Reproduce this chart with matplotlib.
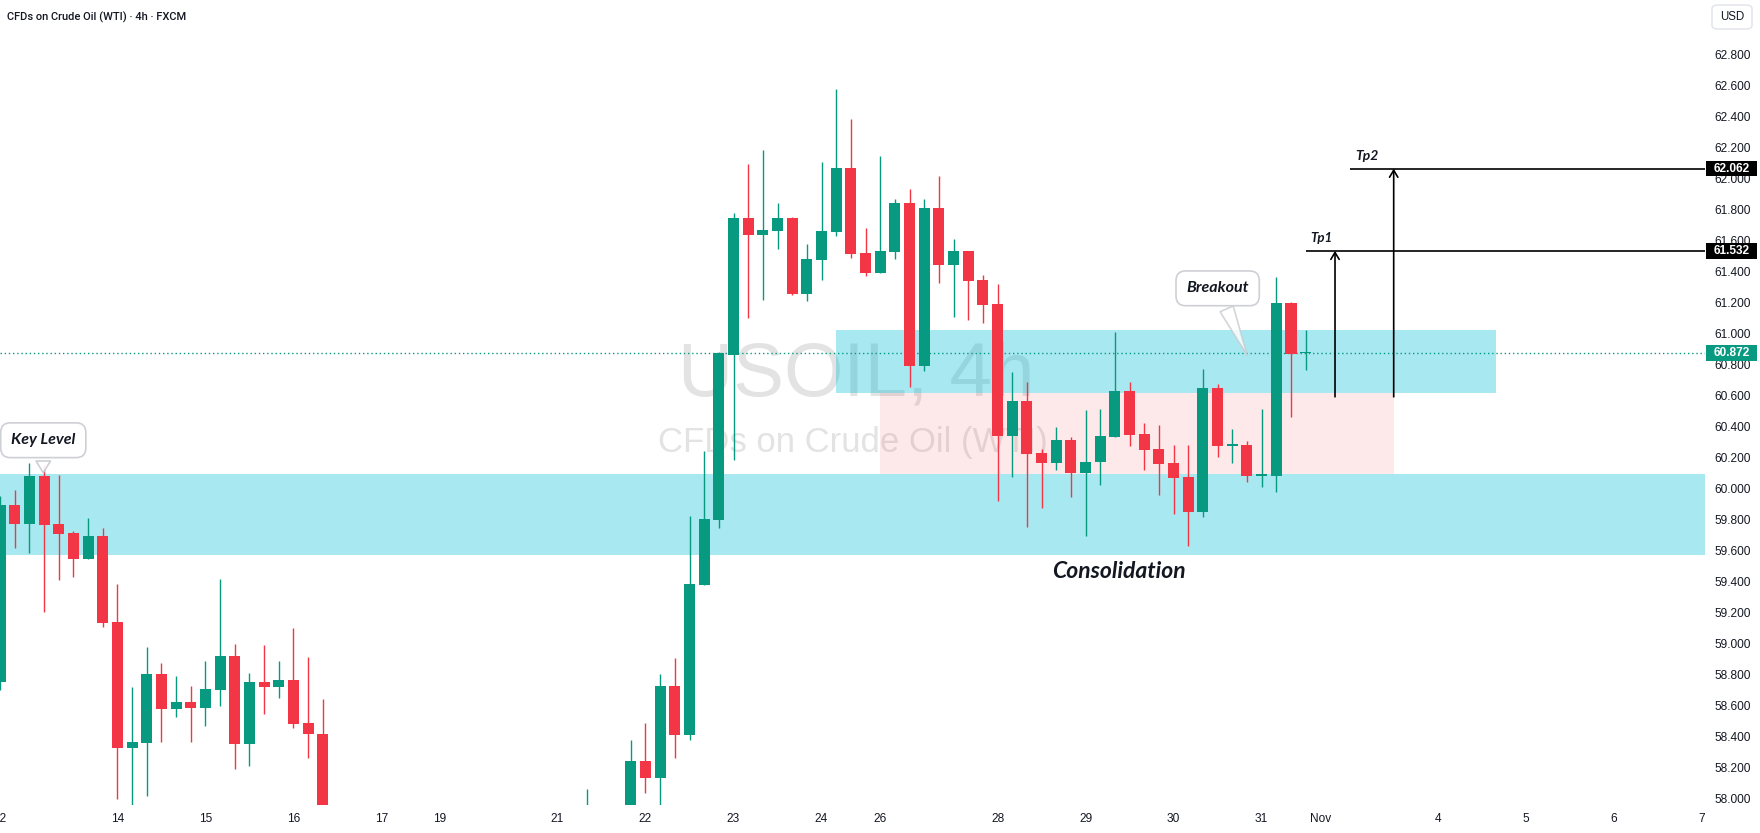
import matplotlib
matplotlib.use("Agg")
import matplotlib.pyplot as plt
from matplotlib.patches import Rectangle, FancyBboxPatch
import matplotlib.transforms as mtransforms

# 4h candles, x = bar number counted from the first bar of Oct 12
bar_idx = [0, 1, 2, 3, 4, 5, 6, 7, 8, 9, 10, 11, 12, 13, 14, 15, 16, 17, 18, 19, 20, 21, 22,
           40, 43, 44, 45, 46, 47, 48, 49, 50, 51, 52, 53, 54, 55, 56, 57, 58, 59, 60,
           61, 62, 63, 64, 65, 66, 67, 68, 69, 70, 71, 72, 73, 74, 75, 76, 77, 78, 79,
           80, 81, 82, 83, 84, 85, 86, 87, 88, 89]
opens = [58.752, 59.892, 59.772, 60.079, 59.770, 59.712, 59.546, 59.692, 59.137, 58.327,
         58.359, 58.802, 58.578, 58.621, 58.585, 58.701, 58.918, 58.352, 58.750, 58.720,
         58.763, 58.486, 58.417,
         57.70, 57.85, 58.241, 58.133, 58.724, 58.411, 59.378, 59.798, 60.862, 61.744,
         61.636, 61.662, 61.744, 61.256, 61.475, 61.656, 62.066, 61.518, 61.391,
         61.525, 61.841, 60.791, 61.808, 61.443, 61.531, 61.344, 61.189, 60.340, 60.563,
         60.228, 60.165, 60.309, 60.101, 60.168, 60.333, 60.628, 60.350, 60.254,
         60.163, 60.073, 59.849, 60.647, 60.275, 60.279, 60.082, 60.082, 61.195, 60.872]
highs = [59.950, 59.989, 60.165, 60.150, 60.086, 59.724, 59.808, 59.744, 59.383, 58.718,
         58.976, 58.873, 58.789, 58.724, 58.886, 59.415, 58.995, 58.808, 58.989, 58.886,
         59.099, 58.912, 58.641,
         58.06, 58.376, 58.486, 58.802, 58.905, 59.821, 60.241, 60.880, 61.776, 62.092,
         62.183, 61.841, 61.750, 61.576, 62.105, 62.576, 62.383, 61.679, 62.144,
         61.866, 61.931, 61.866, 62.015, 61.608, 61.531, 61.376, 61.318, 60.750, 60.686,
         60.254, 60.395, 60.331, 60.505, 60.512, 61.008, 60.686, 60.421, 60.408,
         60.279, 60.279, 60.770, 60.673, 60.383, 60.305, 60.512, 61.363, 61.202, 61.021]
lows = [58.700, 59.617, 59.585, 59.204, 59.408, 59.430, 59.546, 59.107, 57.998, 57.900,
        58.015, 58.365, 58.527, 58.365, 58.469, 58.598, 58.191, 58.211, 58.546, 58.649,
        58.456, 58.262, 57.50,
        57.55, 57.80, 58.036, 57.90, 58.262, 58.378, 59.378, 59.746, 60.180, 61.101,
        61.217, 61.546, 61.250, 61.211, 61.346, 61.630, 61.488, 61.372, 61.391,
        61.479, 60.656, 60.759, 61.327, 61.107, 61.088, 61.069, 59.920, 60.075, 59.752,
        59.875, 60.120, 59.946, 59.694, 60.023, 60.333, 60.275, 60.120, 59.959,
        59.836, 59.630, 59.817, 60.204, 60.165, 60.043, 60.011, 59.978, 60.462, 60.763]
closes = [59.892, 59.772, 60.079, 59.763, 59.707, 59.546, 59.692, 59.133, 58.327, 58.363,
          58.802, 58.578, 58.621, 58.585, 58.705, 58.918, 58.352, 58.750, 58.720, 58.763,
          58.481, 58.417, 57.70,
          57.85, 58.241, 58.133, 58.724, 58.411, 59.383, 59.802, 60.871, 61.744, 61.636,
          61.666, 61.744, 61.256, 61.479, 61.660, 62.066, 61.514, 61.391, 61.531,
          61.841, 60.791, 61.808, 61.443, 61.531, 61.340, 61.185, 60.340, 60.563, 60.223,
          60.165, 60.309, 60.101, 60.168, 60.337, 60.628, 60.346, 60.249, 60.159,
          60.069, 59.849, 60.647, 60.275, 60.275, 60.082, 60.082, 61.195, 60.864, 60.872]

date_labels = ["12", "14", "15", "16", "17", "19", "21", "22", "23", "24", "26", "28",
               "29", "30", "31", "Nov", "4", "5", "6", "7"]
date_pos = [0, 8, 14, 20, 26, 30, 38, 44, 50, 56, 60, 68, 74, 80, 86, 90, 98, 104, 110, 116]

price_ticks = [58.0, 58.2, 58.4, 58.6, 58.8, 59.0, 59.2, 59.4, 59.6, 59.8, 60.0, 60.2, 60.4,
               60.6, 60.8, 61.0, 61.2, 61.4, 61.6, 61.8, 62.0, 62.2, 62.4, 62.6, 62.8]

last_price = 60.872
tp1 = 61.532
tp2 = 62.062
key_zone = (59.570, 60.092)
upper_zone = (60.615, 61.021)
range_zone = (60.094, 60.615)

UP = "#089981"
DOWN = "#f23645"
TXT = "#131722"

fig = plt.figure(figsize=(17.6, 8.33), dpi=100)
ax = fig.add_axes([0, 28 / 833, 1705 / 1760, 805 / 833])
ax.set_xlim(0.12, 116.22)
ax.set_ylim(57.957, 63.150)

# watermark
ax.text(0.502, 0.533, "USOIL, 4h", transform=ax.transAxes, ha="center", va="center",
        fontsize=55, color="#e3e3e3", family="Liberation Sans", zorder=0)
ax.text(0.5, 0.45, "CFDs on Crude Oil (WTI)", transform=ax.transAxes, ha="center",
        va="center", fontsize=25, color="#e3e3e3", family="Liberation Sans", zorder=0)

# zones
ax.axhspan(key_zone[0], key_zone[1], color="#00bcd4", alpha=0.34, lw=0, zorder=1)
ax.add_patch(Rectangle((57.0, upper_zone[0]), 102.0 - 57.0, upper_zone[1] - upper_zone[0],
                       color="#00bcd4", alpha=0.34, lw=0, zorder=1))
ax.add_patch(Rectangle((60.0, range_zone[0]), 95.0 - 60.0, range_zone[1] - range_zone[0],
                       color="#f23645", alpha=0.11, lw=0, zorder=1))

# candles
colors = [UP if c >= o else DOWN for o, c in zip(opens, closes)]
bottoms = [min(o, c) for o, c in zip(opens, closes)]
heights = [max(abs(c - o), 0.008) for o, c in zip(opens, closes)]
ax.vlines(bar_idx, lows, highs, colors=colors, lw=1.0, zorder=3)
ax.bar(bar_idx, heights, bottom=bottoms, width=0.75, color=colors, lw=0, zorder=4)

# last price line
ax.axhline(last_price, color=UP, lw=1.0, ls=(0, (1, 2)), zorder=2)

# targets
ax.hlines(tp1, 89, 116.22, color="black", lw=1.2, zorder=5)
ax.hlines(tp2, 92, 116.22, color="black", lw=1.2, zorder=5)
for xa, ya in [(91, tp1), (95, tp2)]:
    ax.annotate("", xy=(xa, ya), xytext=(xa, 60.59),
                arrowprops=dict(arrowstyle="->,head_length=0.5,head_width=0.3",
                                color="black", lw=1.2, shrinkA=0, shrinkB=0), zorder=5)
ax.text(89.3, tp1 + 0.045, "Tp1", ha="left", va="bottom", fontsize=9.5, fontweight="bold",
        fontstyle="italic", family="Lato", color=TXT, zorder=6)
ax.text(92.4, tp2 + 0.045, "Tp2", ha="left", va="bottom", fontsize=10, fontweight="bold",
        fontstyle="italic", family="Lato", color=TXT, zorder=6)

# callouts
box = dict(boxstyle="round,pad=0.65,rounding_size=0.6", fc="white", ec="#c9cbd1", lw=1.2,
           alpha=0.9)
ax.annotate("Key Level", xy=(2.95, 60.10), xytext=(2.95, 60.31), ha="center", va="center",
            fontsize=11.5, fontweight="bold", fontstyle="italic", family="Lato", color=TXT,
            bbox=box, zorder=7,
            arrowprops=dict(arrowstyle="wedge,tail_width=0.9", fc="white", ec="#c9cbd1",
                            lw=1.2, alpha=0.9, shrinkB=0))
ax.annotate("Breakout", xy=(85.0, 60.86), xytext=(83.0, 61.29), ha="center", va="center",
            fontsize=11.5, fontweight="bold", fontstyle="italic", family="Lato", color=TXT,
            bbox=box, zorder=7,
            arrowprops=dict(arrowstyle="wedge,tail_width=0.9", fc="white", ec="#c9cbd1",
                            lw=1.2, alpha=0.8, shrinkB=0))
ax.text(76.3, 59.462, "Consolidation", ha="center", va="center", fontsize=16.5,
        fontweight="bold", fontstyle="italic", family="Lato", color=TXT, zorder=7)

# price scale
ax.yaxis.tick_right()
ax.set_yticks(price_ticks)
ax.set_yticklabels(["%.3f" % p for p in price_ticks], family="Liberation Sans")
ax.tick_params(axis="y", length=0, pad=7, labelsize=8.6, labelcolor=TXT)

trans = mtransforms.blended_transform_factory(ax.transAxes, ax.transData)
for val, fc in [(tp2, "black"), (tp1, "black"), (last_price, UP)]:
    ax.add_patch(Rectangle((1.0008, val - 0.05), 0.0295, 0.10, transform=trans, fc=fc,
                           lw=0, clip_on=False, zorder=10))
    ax.text(1.0155, val, "%.3f" % val, transform=trans, ha="center", va="center",
            fontsize=8.6, fontweight="bold", color="white", family="Liberation Sans",
            clip_on=False, zorder=11)

# time scale
ax.set_xticks(date_pos)
ax.set_xticklabels(date_labels, family="Liberation Sans")
ax.tick_params(axis="x", length=0, pad=6, labelsize=8.6, labelcolor=TXT)

for s in ax.spines.values():
    s.set_visible(False)

# header
fig.text(7 / 1760, 1 - 17 / 833, "CFDs on Crude Oil (WTI) \u00b7 4h \u00b7 FXCM", ha="left",
         va="center", fontsize=8.0, color=TXT, family="Roboto", fontweight="medium")
fig.patches.append(FancyBboxPatch((1712 / 1760, 1 - 29 / 833), 40 / 1760, 24 / 833,
                                  boxstyle="round,pad=0,rounding_size=0.004",
                                  transform=fig.transFigure, fc="white", ec="#e0e3eb", lw=1))
fig.text(1732 / 1760, 1 - 17 / 833, "USD", ha="center", va="center", fontsize=8.3,
         color=TXT, family="Liberation Sans")

fig.savefig("out.png", dpi=100, facecolor="white")
